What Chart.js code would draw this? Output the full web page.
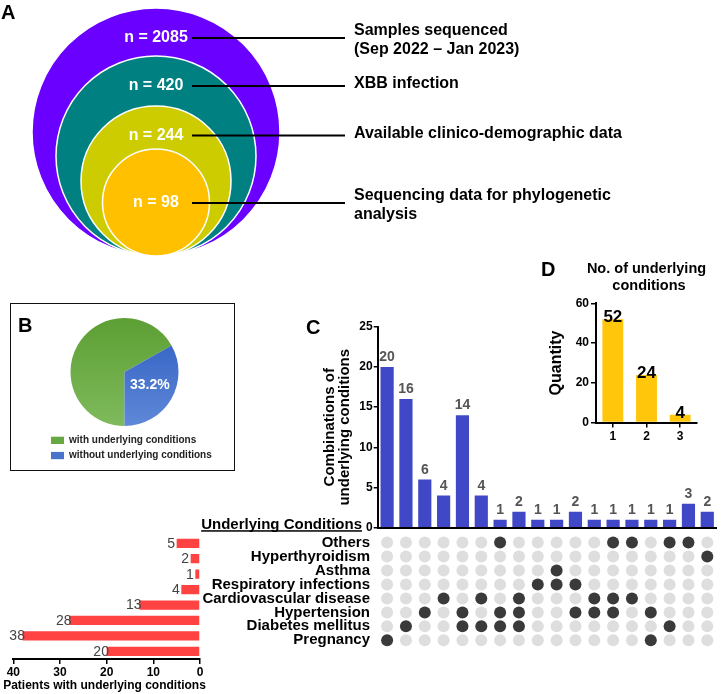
<!DOCTYPE html>
<html>
<head>
<meta charset="utf-8">
<script src="https://cdn.jsdelivr.net/npm/chart.js@4.4.1/dist/chart.umd.min.js"></script>
<style>
  body { margin: 0; background: #fff; width: 723px; height: 694px; position: relative; overflow: hidden; }
  canvas { position: absolute; }
  .tag { position: absolute; font: bold 20px/20px "Liberation Sans", Arial, sans-serif; color: #000; z-index: 5; }
  #boxB { position: absolute; left: 10px; top: 303px; width: 222.5px; height: 166px; border: 1.5px solid #111; }
</style>
</head>
<body>
<div id="boxB"></div>
<canvas id="chartA" width="723" height="262" style="left:0;top:0"></canvas>
<canvas id="chartB" width="225" height="165" style="left:12px;top:305px"></canvas>
<canvas id="chartC" width="423" height="220" style="left:300px;top:316px"></canvas>
<canvas id="chartDots" width="533" height="150" style="left:190px;top:514px"></canvas>
<canvas id="chartL" width="215" height="164" style="left:0;top:530px"></canvas>
<canvas id="chartD" width="183" height="191" style="left:540px;top:255px"></canvas>
<div class="tag" style="left:1px;top:2px">A</div>
<div class="tag" style="left:18px;top:315px">B</div>
<div class="tag" style="left:306px;top:317px">C</div>
<div class="tag" style="left:541px;top:259px">D</div>
<script>
// A: samples at each step
const funnelCounts = [2085, 420, 244, 98];
const funnelSteps = [
    ['Samples sequenced', '(Sep 2022 – Jan 2023)'],
    ['XBB infection'],
    ['Available clinico-demographic data'],
    ['Sequencing data for phylogenetic', 'analysis']
];

// B: share of patients
const pieLabels = ['with underlying conditions', 'without underlying conditions'];
const pieValues = [66.8, 33.2];

// C: underlying conditions (top to bottom) and patients per condition
const conditions = ['Others', 'Hyperthyroidism', 'Asthma', 'Respiratory infections',
    'Cardiovascular disease', 'Hypertension', 'Diabetes mellitus', 'Pregnancy'];
const conditionPatients = [5, 2, 1, 4, 13, 28, 38, 20];

// C: combinations of conditions and how many patients had each
const combos = [
    ['Pregnancy'],
    ['Diabetes mellitus'],
    ['Hypertension'],
    ['Cardiovascular disease'],
    ['Hypertension', 'Diabetes mellitus'],
    ['Cardiovascular disease', 'Diabetes mellitus'],
    ['Others', 'Hypertension', 'Diabetes mellitus'],
    ['Cardiovascular disease', 'Hypertension', 'Diabetes mellitus'],
    ['Respiratory infections'],
    ['Asthma', 'Respiratory infections'],
    ['Respiratory infections', 'Hypertension'],
    ['Cardiovascular disease', 'Hypertension'],
    ['Others', 'Cardiovascular disease', 'Hypertension'],
    ['Others', 'Cardiovascular disease'],
    ['Hypertension', 'Pregnancy'],
    ['Others', 'Diabetes mellitus'],
    ['Others'],
    ['Hyperthyroidism']
];
const comboCounts = [20, 16, 6, 4, 14, 4, 1, 2, 1, 1, 2, 1, 1, 1, 1, 1, 3, 2];

// D: number of conditions per patient
const countLevels = ['1', '2', '3'];
const countQuantity = [52, 24, 4];

const FONT = '"Liberation Sans", Arial, sans-serif';
Chart.defaults.font.family = FONT;
Chart.defaults.color = '#000';
Chart.defaults.animation = false;
Chart.defaults.events = [];
Chart.defaults.plugins.legend.display = false;
Chart.defaults.plugins.tooltip.enabled = false;

// labels drawn next to bars of the first dataset
function valueLabels(fmt) {
    return {
        id: 'valueLabels',
        afterDatasetsDraw(chart) {
            const ctx = chart.ctx;
            ctx.save();
            ctx.font = fmt.font;
            ctx.fillStyle = fmt.color;
            ctx.textAlign = fmt.align;
            ctx.textBaseline = fmt.baseline;
            chart.getDatasetMeta(0).data.forEach((bar, i) => {
                const p = fmt.at(bar);
                ctx.fillText(chart.data.datasets[0].data[i], p.x, p.y);
            });
            ctx.restore();
        }
    };
}

// free text lines (titles that should not be squeezed)
function textLines(lines) {
    return {
        id: 'textLines',
        afterDraw(chart) {
            const ctx = chart.ctx;
            ctx.save();
            lines(chart).forEach(t => {
                ctx.font = t.font;
                ctx.fillStyle = t.color || '#000';
                ctx.textAlign = t.align || 'center';
                ctx.textBaseline = 'middle';
                ctx.fillText(t.text, t.x, t.y);
            });
            ctx.restore();
        }
    };
}

// ---- A: nested circles ----
const circleRadius = [124, 100, 75, 53.5];
const circleColors = ['#6a00ff', '#008080', '#cccc00', '#ffc000'];
const labelLevel = [218, 170, 120.5, 53];
const circleX = 156;

const funnelText = {
    id: 'funnelText',
    afterDatasetsDraw(chart) {
        const {ctx, scales: {x, y}} = chart;
        ctx.save();
        ctx.textBaseline = 'middle';
        ctx.font = 'bold 16px ' + FONT;
        funnelCounts.forEach((n, i) => {
            const py = y.getPixelForValue(labelLevel[i]);
            ctx.fillStyle = '#fff';
            ctx.textAlign = 'center';
            ctx.fillText('n = ' + n, x.getPixelForValue(circleX), py);
            ctx.fillStyle = '#000';
            ctx.textAlign = 'left';
            const lines = funnelSteps[i];
            lines.forEach((t, j) => {
                ctx.fillText(t, x.getPixelForValue(354), py - 2 - (lines.length - 1) * 5 + j * 18.5);
            });
        });
        ctx.restore();
    }
};

new Chart(document.getElementById('chartA'), {
    type: 'scatter',
    data: {
        datasets: [
            {
                order: 1,
                clip: false,
                data: funnelCounts.map((n, i) => ({x: circleX, y: circleRadius[i]})),
                pointBackgroundColor: circleColors,
                pointBorderColor: '#fff',
                pointBorderWidth: 1.5,
                pointRadius: ctx => {
                    const a = ctx.chart.chartArea;
                    const s = ctx.chart.scales.y;
                    if (!a || !s) return 0;
                    return circleRadius[ctx.dataIndex] * a.height / (s.max - s.min);
                }
            },
            ...funnelCounts.map((n, i) => ({
                type: 'line',
                order: 0,
                clip: false,
                data: [{x: 192, y: labelLevel[i]}, {x: 345, y: labelLevel[i]}],
                borderColor: '#000',
                borderWidth: 2,
                pointRadius: 0
            }))
        ]
    },
    options: {
        responsive: false,
        layout: {padding: 0},
        scales: {
            x: {type: 'linear', display: false, min: 0, max: 723},
            y: {type: 'linear', display: false, min: -6, max: 256}
        }
    },
    plugins: [funnelText]
});

// ---- B: pie ----
const pieGrad = [['#5c9f33', '#7fba5c'], ['#2c5cc0', '#5f88d8']];
const legendColors = ['#68a843', '#4a74cc'];

const pieText = {
    id: 'pieText',
    afterDraw(chart) {
        const ctx = chart.ctx;
        const p = chart.getDatasetMeta(0).data[1].getCenterPoint();
        ctx.save();
        ctx.font = 'bold 14px ' + FONT;
        ctx.fillStyle = '#fff';
        ctx.textAlign = 'center';
        ctx.textBaseline = 'middle';
        ctx.fillText(pieValues[1].toFixed(1) + '%', p.x + 2, p.y);
        // legend
        ctx.font = 'bold 10px ' + FONT;
        ctx.textAlign = 'left';
        pieLabels.forEach((t, i) => {
            const y = chart.chartArea.bottom + 1.3 + i * 15.2;
            ctx.fillStyle = legendColors[i];
            ctx.fillRect(39, y - 3.6, 13, 7.3);
            ctx.fillStyle = '#222';
            ctx.fillText(t, 57, y);
        });
        ctx.restore();
    }
};

new Chart(document.getElementById('chartB'), {
    type: 'pie',
    data: {
        labels: pieLabels,
        datasets: [{
            data: pieValues,
            borderWidth: 0,
            radius: 54,
            backgroundColor: ctx => {
                const a = ctx.chart.chartArea;
                if (!a) return legendColors[ctx.dataIndex];
                const cy = (a.top + a.bottom) / 2;
                const g = ctx.chart.ctx.createLinearGradient(0, cy - 54, 0, cy + 54);
                g.addColorStop(0, pieGrad[ctx.dataIndex][0]);
                g.addColorStop(1, pieGrad[ctx.dataIndex][1]);
                return g;
            }
        }]
    },
    options: {
        responsive: false,
        rotation: 180,
        layout: {padding: {left: 0, right: 0, top: 0, bottom: 31}}
    },
    plugins: [pieText]
});

// ---- C: combination bars ----
new Chart(document.getElementById('chartC'), {
    type: 'bar',
    data: {
        labels: combos.map(c => c.join(' + ')),
        datasets: [{
            data: comboCounts,
            backgroundColor: '#4048c8',
            barPercentage: 0.7,
            categoryPercentage: 1
        }]
    },
    options: {
        responsive: false,
        layout: {padding: {top: 10.7, right: 6.3, bottom: 5, left: 0}},
        scales: {
            x: {
                ticks: {display: false},
                grid: {display: false, drawTicks: false},
                border: {color: '#000', width: 2},
                afterFit: s => { s.height = 0; }
            },
            y: {
                min: 0,
                max: 25,
                ticks: {stepSize: 5, padding: 1, font: {size: 12, weight: 'bold'}, color: '#000'},
                grid: {drawOnChartArea: false, tickLength: 4, color: '#000', lineWidth: 1.5},
                border: {color: '#000', width: 2},
                title: {
                    display: true,
                    text: ['Combinations of', 'underlying conditions'],
                    font: {size: 15, weight: 'bold', lineHeight: 1},
                    padding: {top: 22.5, bottom: 0},
                    color: '#000'
                },
                afterFit: s => { s.width = 77.7; }
            }
        }
    },
    plugins: [valueLabels({
        font: 'bold 14px ' + FONT, color: '#555', align: 'center', baseline: 'alphabetic',
        at: bar => ({x: bar.x, y: bar.y - 6})
    })]
});

// ---- C: membership matrix ----
const cells = [];
combos.forEach((c, col) => conditions.forEach(cond => {
    cells.push({x: col, y: cond, on: c.includes(cond)});
}));

const matrixHeader = {
    id: 'matrixHeader',
    afterDraw(chart) {
        const ctx = chart.ctx;
        const right = chart.chartArea.left - 15.7;
        const text = 'Underlying Conditions';
        ctx.save();
        ctx.font = 'bold 15px ' + FONT;
        ctx.fillStyle = '#000';
        ctx.textAlign = 'right';
        ctx.textBaseline = 'alphabetic';
        ctx.fillText(text, right, 15);
        const w = ctx.measureText(text).width;
        ctx.fillRect(right - w, 16.2, w, 1.5);
        ctx.restore();
    }
};

new Chart(document.getElementById('chartDots'), {
    type: 'scatter',
    data: {
        datasets: [{
            data: cells,
            pointRadius: 6,
            pointBorderWidth: 0,
            pointBackgroundColor: ctx => (ctx.raw && ctx.raw.on ? '#3a3a3a' : '#dedede')
        }]
    },
    options: {
        responsive: false,
        layout: {padding: {top: 21.6, right: 6.3, bottom: 5, left: 0}},
        scales: {
            x: {type: 'linear', display: false, min: -0.5, max: combos.length - 0.5},
            y: {
                type: 'category',
                labels: conditions,
                offset: true,
                grid: {display: false, drawTicks: false},
                border: {display: false},
                ticks: {padding: 7.7, font: {size: 15, weight: 'bold'}, color: '#000', autoSkip: false},
                afterFit: s => { s.width = 187.7; }
            }
        }
    },
    plugins: [matrixHeader]
});

// ---- C: patients per condition ----
new Chart(document.getElementById('chartL'), {
    type: 'bar',
    data: {
        labels: conditions,
        datasets: [{
            data: conditionPatients,
            backgroundColor: '#ff4242',
            barPercentage: 0.6,
            categoryPercentage: 1
        }]
    },
    options: {
        indexAxis: 'y',
        responsive: false,
        layout: {padding: {top: 5.6, left: 13.3, right: 15, bottom: 0}},
        scales: {
            y: {display: false},
            x: {
                reverse: true,
                min: 0,
                max: 40,
                ticks: {stepSize: 10, padding: 1, maxRotation: 0, font: {size: 12, weight: 'bold'}, color: '#000'},
                grid: {drawOnChartArea: false, tickLength: 5, color: '#000', lineWidth: 1.5},
                border: {color: '#000', width: 2},
                afterFit: s => { s.height = 35; }
            }
        }
    },
    plugins: [
        valueLabels({
            font: '14px ' + FONT, color: '#444', align: 'center', baseline: 'middle',
            at: bar => ({x: bar.x - 5.5, y: bar.y + 0.5})
        }),
        textLines(chart => [{
            text: 'Patients with underlying conditions', font: 'bold 12px ' + FONT,
            x: 104.5, y: chart.height - 8
        }])
    ]
});

// ---- D: number of conditions ----
new Chart(document.getElementById('chartD'), {
    type: 'bar',
    data: {
        labels: countLevels,
        datasets: [{
            data: countQuantity,
            backgroundColor: '#ffc60b',
            barPercentage: 0.62,
            categoryPercentage: 1
        }]
    },
    options: {
        responsive: false,
        layout: {padding: {top: 48.3, right: 26}},
        scales: {
            x: {
                ticks: {padding: 2, font: {size: 12, weight: 'bold'}, color: '#000'},
                grid: {drawOnChartArea: false, tickLength: 5, color: '#000', lineWidth: 1.5, offset: false},
                border: {color: '#000', width: 2}
            },
            y: {
                min: 0,
                max: 60,
                ticks: {stepSize: 20, padding: 2, font: {size: 12, weight: 'bold'}, color: '#000'},
                grid: {drawOnChartArea: false, tickLength: 5, color: '#000', lineWidth: 1.5},
                border: {color: '#000', width: 2},
                title: {
                    display: true,
                    text: 'Quantity',
                    font: {size: 16, weight: 'bold'},
                    padding: {top: 7.4, bottom: 0},
                    color: '#000'
                },
                afterFit: s => { s.width = 56; }
            }
        }
    },
    plugins: [
        valueLabels({
            font: 'bold 17px ' + FONT, color: '#000', align: 'center', baseline: 'middle',
            at: bar => ({x: bar.x, y: bar.y - 1.5})
        }),
        textLines(() => [
            {text: 'No. of underlying', font: 'bold 14.5px ' + FONT, x: 106.5, y: 14},
            {text: 'conditions', font: 'bold 14.5px ' + FONT, x: 109, y: 30.5}
        ])
    ]
});
</script>
</body>
</html>
